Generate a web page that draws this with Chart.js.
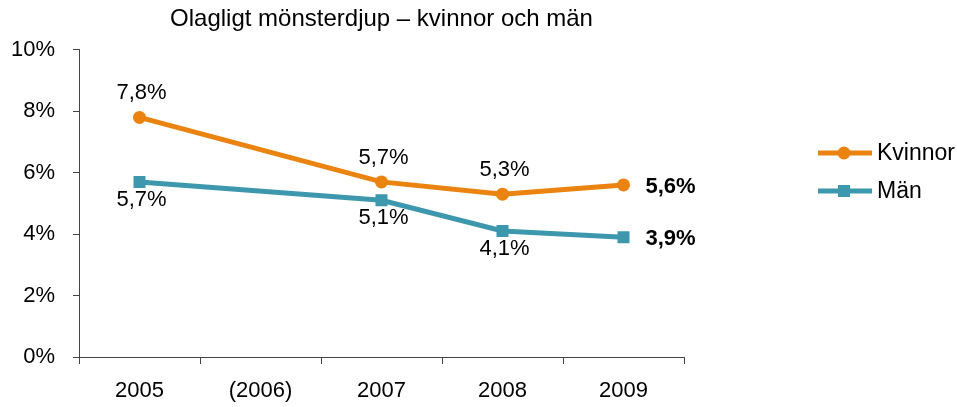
<!DOCTYPE html>
<html><head><meta charset="utf-8">
<script src="https://cdn.jsdelivr.net/npm/chart.js@4/dist/chart.umd.min.js"></script>
<style>html,body{margin:0;padding:0;background:#fff}#wrap{width:957px;height:407px}</style>
</head><body><div id="wrap"><canvas id="c" width="957" height="407"></canvas></div>
<script>
const categories = ['2005', '(2006)', '2007', '2008', '2009'];
const kvinnor = [7.8, null, 5.7, 5.3, 5.6];
const man = [5.7, null, 5.1, 4.1, 3.9];
const yTicks = [0, 2, 4, 6, 8, 10];
const seriesNames = ['Kvinnor', 'Män'];
const titleText = 'Olagligt mönsterdjup – kvinnor och män';

const FONT = "'Liberation Sans', Arial, Helvetica, sans-serif";
const ORANGE = '#EA8310';
const TEAL = '#3D98AE';
const fmt = v => v.toFixed(1).replace('.', ',') + '%';

const labelPlugin = {
  id: 'labels',
  afterDatasetsDraw(chart) {
    const ctx = chart.ctx;
    ctx.save();
    chart.data.datasets.forEach((ds, di) => {
      const meta = chart.getDatasetMeta(di);
      const last = ds.data.length - 1;
      meta.data.forEach((pt, i) => {
        const v = ds.data[i];
        if (v === null || v === undefined) return;
        ctx.fillStyle = '#000';
        if (i === last) {
          ctx.font = 'bold 22px ' + FONT;
          ctx.textAlign = 'left';
          ctx.textBaseline = 'middle';
          ctx.fillText(fmt(v), pt.x + 22, pt.y + 2);
        } else {
          ctx.font = '22px ' + FONT;
          ctx.textAlign = 'center';
          ctx.textBaseline = 'middle';
          const dy = di === 0 ? -24 : 18;
          ctx.fillText(fmt(v), pt.x + 2, pt.y + dy);
        }
      });
    });
    // legend
    const ys = [153, 191];
    chart.data.datasets.forEach((ds, di) => {
      const y = ys[di];
      ctx.strokeStyle = ds.borderColor;
      ctx.lineWidth = 5;
      ctx.beginPath();
      ctx.moveTo(818, y);
      ctx.lineTo(872, y);
      ctx.stroke();
      ctx.fillStyle = ds.borderColor;
      if (ds.pointStyle === 'rect') {
        const s = ds.pointRadius * Math.SQRT1_2;
        ctx.fillRect(844 - s, y - s, 2 * s, 2 * s);
      } else {
        ctx.beginPath();
        ctx.arc(844, y, ds.pointRadius, 0, Math.PI * 2);
        ctx.fill();
      }
      ctx.fillStyle = '#000';
      ctx.font = '23px ' + FONT;
      ctx.textAlign = 'left';
      ctx.textBaseline = 'middle';
      ctx.fillText(ds.label, 877, y + 1);
    });
    ctx.restore();
  }
};

new Chart(document.getElementById('c'), {
  type: 'line',
  data: {
    labels: categories,
    datasets: [
      {label: seriesNames[0], data: kvinnor, borderColor: ORANGE, backgroundColor: ORANGE,
       borderWidth: 5, pointRadius: 6.5, pointStyle: 'circle', pointBackgroundColor: ORANGE,
       pointBorderWidth: 0, spanGaps: true, tension: 0},
      {label: seriesNames[1], data: man, borderColor: TEAL, backgroundColor: TEAL,
       borderWidth: 5, pointRadius: 8.5, pointStyle: 'rect', pointBackgroundColor: TEAL,
       pointBorderWidth: 0, spanGaps: true, tension: 0}
    ]
  },
  options: {
    responsive: false,
    animation: false,
    devicePixelRatio: 1,
    layout: {padding: {left: 0, right: 273, top: 0, bottom: 0}},
    plugins: {
      legend: {display: false},
      tooltip: {enabled: false},
      title: {display: true, text: titleText, fullSize: false, color: '#000',
              font: {family: FONT, size: 24, weight: 'normal'}, padding: {top: 5, bottom: 16}}
    },
    scales: {
      x: {
        offset: true,
        grid: {offset: true, drawOnChartArea: false, drawTicks: true, tickLength: 7, color: '#444'},
        border: {display: true, color: '#444', width: 1},
        ticks: {color: '#000', font: {family: FONT, size: 22}, padding: 14, maxRotation: 0},
        afterFit(s) { s.height = 50; }
      },
      y: {
        min: 0, max: 10,
        afterBuildTicks(s) { s.ticks = yTicks.map(v => ({value: v})); },
        grid: {drawOnChartArea: false, drawTicks: true, tickLength: 6, color: '#444'},
        border: {display: true, color: '#444', width: 1},
        ticks: {color: '#000', font: {family: FONT, size: 22}, padding: 18, callback: v => v + '%'},
        afterFit(s) { s.width = 79; }
      }
    }
  },
  plugins: [labelPlugin]
});
</script>
</body></html>
